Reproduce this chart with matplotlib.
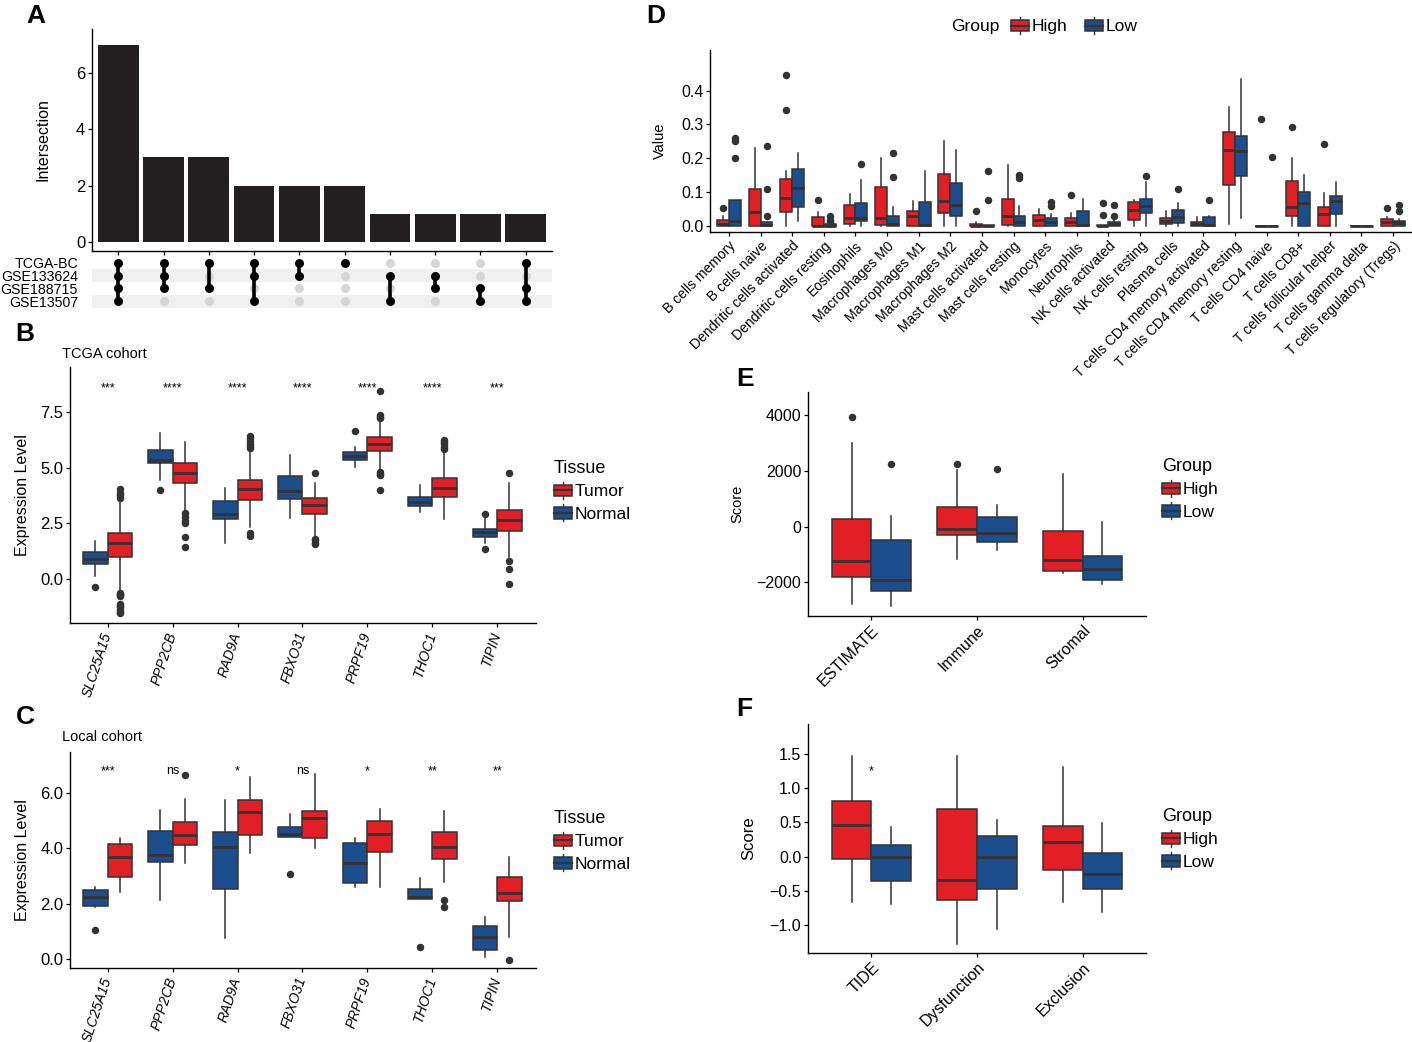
import numpy as np
import matplotlib
matplotlib.use('Agg')
import matplotlib.pyplot as plt
from matplotlib.patches import Patch, Rectangle
from matplotlib.lines import Line2D
from matplotlib.legend_handler import HandlerBase
from matplotlib.ticker import FormatStrFormatter

plt.rcParams['font.family'] = ['Liberation Sans', 'DejaVu Sans']

RED = '#E31F26'
BLUE = '#1C4E8E'
EDGE = '#333333'

# ---------------- data ----------------
# A: upset plot
a_sets = ['TCGA-BC', 'GSE133624', 'GSE188715', 'GSE13507']
a_sizes = [7, 3, 3, 2, 2, 2, 1, 1, 1, 1]
a_members = [[1, 1, 1, 1], [1, 1, 1, 0], [1, 0, 1, 0], [1, 1, 0, 1], [1, 1, 0, 0],
             [1, 0, 0, 0], [0, 1, 0, 1], [0, 1, 1, 0], [0, 0, 1, 1], [1, 0, 1, 1]]

# B/C: five numbers per box (whisker low, q1, median, q3, whisker high)
genes = ['SLC25A15', 'PPP2CB', 'RAD9A', 'FBXO31', 'PRPF19', 'THOC1', 'TIPIN']

b_normal = [(0.14, 0.65, 0.90, 1.20, 1.71), (4.44, 5.20, 5.35, 5.80, 6.55),
            (1.59, 2.67, 2.91, 3.50, 4.07), (2.72, 3.57, 3.96, 4.62, 5.59),
            (5.05, 5.35, 5.54, 5.71, 5.95), (3.02, 3.27, 3.44, 3.69, 4.22),
            (1.59, 1.89, 2.10, 2.25, 2.72)]
b_normal_out = [[-0.39], [4.01], [], [], [6.64], [], [2.93, 1.32]]
b_tumor = [(-0.55, 0.96, 1.59, 2.04, 3.52), (3.09, 4.32, 4.77, 5.20, 6.16),
           (2.34, 3.54, 4.02, 4.44, 5.80), (1.86, 2.90, 3.32, 3.65, 4.29),
           (4.89, 5.77, 6.07, 6.37, 7.15), (2.67, 3.69, 4.07, 4.53, 5.72),
           (0.99, 2.16, 2.63, 3.08, 4.32)]
b_tumor_out = [[4.02, 3.88, 3.75, 3.62, -0.66, -0.70, -0.75, -0.80, -1.15, -1.22, -1.30, -1.40, -1.50, -1.56],
               [2.94, 2.79, 2.62, 2.49, 1.89, 1.44],
               [6.43, 6.32, 6.20, 6.08, 5.96, 5.88, 2.04, 1.94],
               [4.74, 1.80, 1.72, 1.62, 1.55],
               [8.44, 7.37, 7.28, 7.22, 4.82, 4.72, 4.67, 3.98],
               [6.25, 6.15, 6.05, 5.95, 5.85],
               [4.74, 0.78, 0.45, -0.23]]
b_sig = ['***', '****', '****', '****', '****', '****', '***']

c_normal = [(1.87, 1.93, 2.23, 2.49, 2.61), (2.13, 3.51, 3.75, 4.62, 5.37),
            (0.76, 2.54, 4.04, 4.59, 5.73), (4.41, 4.41, 4.50, 4.77, 5.22),
            (2.59, 2.76, 3.48, 4.17, 4.35), (2.17, 2.17, 2.25, 2.53, 2.91),
            (0.07, 0.34, 0.82, 1.20, 1.51)]
c_normal_out = [[1.06], [], [], [3.07], [], [0.46], []]
c_tumor = [(2.43, 2.97, 3.69, 4.14, 4.35), (3.45, 4.11, 4.47, 4.93, 5.76),
           (3.84, 4.47, 5.30, 5.73, 6.57), (4.02, 4.36, 5.10, 5.34, 6.67),
           (2.59, 3.86, 4.51, 4.99, 5.40), (2.79, 3.60, 4.03, 4.58, 5.34),
           (0.82, 2.10, 2.40, 2.97, 3.69)]
c_tumor_out = [[], [6.63], [], [], [], [2.12, 1.88], [-0.02]]
c_sig = ['***', 'ns', '*', 'ns', '*', '**', '**']

# D: immune cell fractions
cells = ['B cells memory', 'B cells naive', 'Dendritic cells activated', 'Dendritic cells resting',
         'Eosinophils', 'Macrophages M0', 'Macrophages M1', 'Macrophages M2',
         'Mast cells activated', 'Mast cells resting', 'Monocytes', 'Neutrophils',
         'NK cells activated', 'NK cells resting', 'Plasma cells', 'T cells CD4 memory activated',
         'T cells CD4 memory resting', 'T cells CD4 naive', 'T cells CD8+', 'T cells follicular helper',
         'T cells gamma delta', 'T cells regulatory (Tregs)']
d_high = [(0, 0, 0.006, 0.017, 0.03), (0, 0, 0.040, 0.110, 0.230), (0, 0.042, 0.083, 0.140, 0.161),
          (0, 0, 0.001, 0.025, 0.04), (0, 0.005, 0.023, 0.061, 0.094), (0, 0.002, 0.024, 0.114, 0.200),
          (0, 0, 0.030, 0.044, 0.075), (0, 0.038, 0.075, 0.153, 0.250), (0, 0, 0, 0.006, 0.01),
          (0, 0.002, 0.028, 0.079, 0.181), (0, 0, 0.016, 0.033, 0.050), (0, 0, 0.010, 0.023, 0.038),
          (0, 0, 0, 0.002, 0.004), (0, 0.016, 0.048, 0.071, 0.077), (0, 0.005, 0.013, 0.023, 0.043),
          (0, 0, 0.007, 0.012, 0.026), (0.006, 0.120, 0.223, 0.278, 0.350), (0, 0, 0, 0, 0),
          (0, 0.030, 0.057, 0.134, 0.202), (0, 0, 0.035, 0.055, 0.097), (0, 0, 0, 0, 0),
          (0, 0, 0.010, 0.020, 0.025)]
d_high_out = [[0.052], [], [0.447, 0.343], [0.077], [], [], [], [], [0.043], [], [], [0.091],
              [0.069, 0.033], [], [], [], [], [0.317], [0.292], [0.243], [], [0.054]]
d_low = [(0, 0, 0.013, 0.077, 0.077), (0, 0, 0.003, 0.010, 0.012), (0.013, 0.055, 0.111, 0.168, 0.216),
         (0, 0, 0, 0.006, 0.008), (0, 0.013, 0.023, 0.068, 0.137), (0, 0, 0.006, 0.028, 0.057),
         (0, 0, 0.002, 0.071, 0.162), (0, 0.028, 0.061, 0.127, 0.223), (0, 0, 0, 0.002, 0.003),
         (0, 0, 0.010, 0.030, 0.060), (0, 0, 0.010, 0.024, 0.035), (0, 0, 0.002, 0.043, 0.080),
         (0, 0, 0.006, 0.012, 0.020), (0, 0.038, 0.059, 0.079, 0.129), (0, 0.008, 0.026, 0.047, 0.067),
         (0, 0, 0.002, 0.025, 0.030), (0.023, 0.147, 0.221, 0.267, 0.434), (0, 0, 0, 0, 0),
         (0, 0, 0.067, 0.101, 0.151), (0, 0.036, 0.075, 0.087, 0.129), (0, 0, 0, 0, 0),
         (0, 0, 0.008, 0.015, 0.020)]
d_low_out = [[0.26, 0.25, 0.20], [0.236, 0.109, 0.030], [], [0.028, 0.018, 0.010], [0.183],
             [0.216, 0.144], [], [], [0.163, 0.077], [0.151, 0.142], [0.071, 0.060], [],
             [0.062, 0.028], [0.147], [0.110], [0.077], [], [0.203], [], [], [], [0.062, 0.045]]

# E: ESTIMATE scores
e_cats = ['ESTIMATE', 'Immune', 'Stromal']
e_high = [(-2787, -1814, -1249, 276, 3003), (-1177, -300, -96, 709, 2042), (-1681, -1609, -1213, -156, 1898)]
e_high_out = [[3940], [2258], []]
e_low = [(-2859, -2318, -1934, -492, 396), (-841, -565, -216, 360, 781), (-2078, -1922, -1513, -1045, 156)]
e_low_out = [[2246], [2090], []]

# F: TIDE scores
f_cats = ['TIDE', 'Dysfunction', 'Exclusion']
f_high = [(-0.655, -0.04, 0.466, 0.81, 1.466), (-1.27, -0.631, -0.34, 0.689, 1.466), (-0.655, -0.199, 0.214, 0.451, 1.30)]
f_low = [(-0.694, -0.354, 0.0, 0.17, 0.437), (-1.05, -0.476, 0.0, 0.306, 0.534), (-0.80, -0.466, -0.257, 0.049, 0.485)]
f_sig = ['*', '', '']

# ---------------- helpers ----------------
W, H = 1412, 1042
fig = plt.figure(figsize=(W / 100, H / 100), dpi=100)


def px_axes(x0, y0, x1, y1):
    return fig.add_axes([x0 / W, 1 - y1 / H, (x1 - x0) / W, (y1 - y0) / H])


def style(ax, tick_size):
    for s in ['top', 'right']:
        ax.spines[s].set_visible(False)
    for s in ['left', 'bottom']:
        ax.spines[s].set_color('black')
        ax.spines[s].set_linewidth(1.0)
    ax.tick_params(length=2.8, width=0.9, color='black', labelsize=tick_size, pad=2)


def draw_boxes(ax, boxes, outs, positions, color):
    stats = []
    for (lo, q1, med, q3, hi), fl in zip(boxes, outs):
        stats.append(dict(whislo=lo, q1=q1, med=med, q3=q3, whishi=hi, fliers=fl))
    ax.bxp(stats, positions=positions, widths=0.375, patch_artist=True, showcaps=False,
           manage_ticks=False,
           boxprops=dict(facecolor=color, edgecolor=EDGE, linewidth=1.1),
           medianprops=dict(color=EDGE, linewidth=2.0, solid_capstyle='butt'),
           whiskerprops=dict(color=EDGE, linewidth=1.1),
           flierprops=dict(marker='o', markerfacecolor=EDGE, markeredgecolor=EDGE,
                           markersize=4.4, linestyle='none'))


class BoxKey(HandlerBase):
    def create_artists(self, legend, orig_handle, xdescent, ydescent, width, height, fontsize, trans):
        x0, y0 = -xdescent, -ydescent
        bh = height * 0.68
        by = y0 + (height - bh) / 2
        cx = x0 + width / 2
        r = Rectangle((x0, by), width, bh, facecolor=orig_handle.get_facecolor(),
                      edgecolor=EDGE, lw=1.1, transform=trans)
        w1 = Line2D([cx, cx], [y0, by], color=EDGE, lw=1.0, transform=trans)
        w2 = Line2D([cx, cx], [by + bh, y0 + height], color=EDGE, lw=1.0, transform=trans)
        m = Line2D([x0, x0 + width], [by + bh / 2] * 2, color=EDGE, lw=1.6, transform=trans)
        return [w1, w2, r, m]


def box_legend(labels, colors, title, x, y, ncol=1, title_on=True):
    handles = [Patch(facecolor=c) for c in colors]
    kw = dict(title=title, title_fontsize=13) if title_on else {}
    leg = fig.legend(handles, labels, loc='upper left', bbox_to_anchor=(x / W, 1 - y / H),
                     frameon=False, handler_map={Patch: BoxKey()}, fontsize=12.5, ncol=ncol,
                     handlelength=1.05, handleheight=1.15, handletextpad=0.15, labelspacing=0.28,
                     borderpad=0, borderaxespad=0, columnspacing=1.0, alignment='left', **kw)
    return leg


def letter(s, x, y):
    fig.text(x / W, 1 - y / H, s, fontsize=19, fontweight='bold', ha='center', va='center')


# ---------------- A ----------------
axA = px_axes(92, 29, 552, 251)
style(axA, 12)
xs = np.arange(1, len(a_sizes) + 1)
axA.bar(xs, a_sizes, width=0.9, color='#231F20')
axA.set_xlim(0.42, len(a_sizes) + 0.58)
axA.set_ylim(-0.32, 7.55)
axA.set_yticks([0, 2, 4, 6])
axA.set_xticks(xs)
axA.set_xticklabels([])
axA.set_ylabel('Intersection', fontsize=11.5, labelpad=18)

axM = px_axes(92, 256.5, 552, 307.5)
axM.set_xlim(0.42, len(a_sizes) + 0.58)
axM.set_ylim(3.5, -0.5)
for r in [1, 3]:
    axM.axhspan(r - 0.5, r + 0.5, color='#F0F0F0', lw=0, zorder=0)
for i, mem in enumerate(a_members):
    x = i + 1
    rows = [r for r in range(4) if mem[r]]
    off = [r for r in range(4) if not mem[r]]
    axM.scatter([x] * len(off), off, s=42, color='#D6D6D6', zorder=2, lw=0)
    if len(rows) > 1:
        axM.plot([x, x], [min(rows), max(rows)], color='black', lw=2.6, zorder=3)
    axM.scatter([x] * len(rows), rows, s=42, color='black', zorder=4, lw=0)
for s in axM.spines.values():
    s.set_visible(False)
axM.set_xticks([])
axM.set_yticks(range(4))
axM.set_yticklabels(a_sets, fontsize=10.2)
axM.tick_params(axis='y', length=0, pad=10)
letter('A', 36, 16)

# ---------------- B / C ----------------
def expr_panel(y0, y1, normal, normal_out, tumor, tumor_out, sig, sig_y, ylim, yticks, title, ty, fmt):
    ax = px_axes(70, y0, 535.5, y1)
    style(ax, 12)
    xs = np.arange(1, len(genes) + 1)
    draw_boxes(ax, normal, normal_out, xs - 0.1875, BLUE)
    draw_boxes(ax, tumor, tumor_out, xs + 0.1875, RED)
    for x, s in zip(xs, sig):
        ax.text(x, sig_y, s, ha='center', va='baseline', fontsize=9)
    ax.set_xlim(0.42, len(genes) + 0.59)
    ax.set_ylim(*ylim)
    ax.set_yticks(yticks)
    if fmt:
        ax.yaxis.set_major_formatter(FormatStrFormatter(fmt))
    ax.set_xticks(xs)
    ax.set_xticklabels(genes, rotation=72, ha='right', va='center', rotation_mode='anchor',
                       fontstyle='italic', fontsize=10)
    ax.tick_params(axis='x', pad=4)
    ax.set_ylabel('Expression Level', fontsize=11.5, labelpad=7)
    fig.text(62 / W, 1 - ty / H, title, fontsize=10.5, ha='left', va='center')
    return ax


expr_panel(367, 623, b_normal, b_normal_out, b_tumor, b_tumor_out, b_sig, 8.45,
           (-2.0, 9.54), [0, 2.5, 5.0, 7.5], 'TCGA cohort', 354, None)
box_legend(['Tumor', 'Normal'], [RED, BLUE], 'Tissue', 554, 460)
letter('B', 25, 334)

expr_panel(752, 968, c_normal, c_normal_out, c_tumor, c_tumor_out, c_sig, 6.67,
           (-0.31, 7.46), [0, 2, 4, 6], 'Local cohort', 737, '%.1f')
box_legend(['Tumor', 'Normal'], [RED, BLUE], 'Tissue', 554, 810)
letter('C', 25, 717)

# ---------------- D ----------------
axD = px_axes(710, 50, 1412, 232.3)
style(axD, 11.5)
xs = np.arange(1, len(cells) + 1)
draw_boxes(axD, d_high, d_high_out, xs - 0.1875, RED)
draw_boxes(axD, d_low, d_low_out, xs + 0.1875, BLUE)
axD.set_xlim(0.4, len(cells) + 0.6)
axD.set_ylim(-0.019, 0.52)
axD.set_yticks([0, 0.1, 0.2, 0.3, 0.4])
axD.set_xticks(xs)
axD.set_xticklabels(cells, rotation=45, ha='right', va='top', rotation_mode='anchor', fontsize=10)
axD.set_ylabel('Value', fontsize=10.5, labelpad=10)
fig.text(951 / W, 1 - 27 / H, 'Group', fontsize=12.5, ha='left', va='center')
box_legend(['High', 'Low'], [RED, BLUE], None, 1011, 17, ncol=2, title_on=False)
letter('D', 656, 16)

# ---------------- E ----------------
axE = px_axes(808, 392, 1146, 616)
style(axE, 11.5)
xs = np.arange(1, len(e_cats) + 1)
draw_boxes(axE, e_high, e_high_out, xs - 0.1875, RED)
draw_boxes(axE, e_low, e_low_out, xs + 0.1875, BLUE)
axE.set_xlim(0.4, 3.6)
axE.set_ylim(-3218, 4843)
axE.set_yticks([-2000, 0, 2000, 4000])
axE.set_xticks(xs)
axE.set_xticklabels(e_cats, rotation=45, ha='right', va='top', rotation_mode='anchor', fontsize=11.5)
axE.set_ylabel('Score', fontsize=10.5, labelpad=9)
box_legend(['High', 'Low'], [RED, BLUE], 'Group', 1162, 458)
letter('E', 745, 379)

# ---------------- F ----------------
axF = px_axes(808, 724, 1146, 953)
style(axF, 11.5)
draw_boxes(axF, f_high, [[], [], []], xs - 0.1875, RED)
draw_boxes(axF, f_low, [[], [], []], xs + 0.1875, BLUE)
for x, s in zip(xs, f_sig):
    axF.text(x, 1.20, s, ha='center', va='baseline', fontsize=9)
axF.set_xlim(0.4, 3.6)
axF.set_ylim(-1.40, 1.93)
axF.set_yticks([-1.0, -0.5, 0.0, 0.5, 1.0, 1.5])
axF.set_xticks(xs)
axF.set_xticklabels(f_cats, rotation=45, ha='right', va='top', rotation_mode='anchor', fontsize=11.5)
axF.set_ylabel('Score', fontsize=12, labelpad=10)
box_legend(['High', 'Low'], [RED, BLUE], 'Group', 1162, 808)
letter('F', 744, 709)

fig.savefig('out.png', dpi=100)
